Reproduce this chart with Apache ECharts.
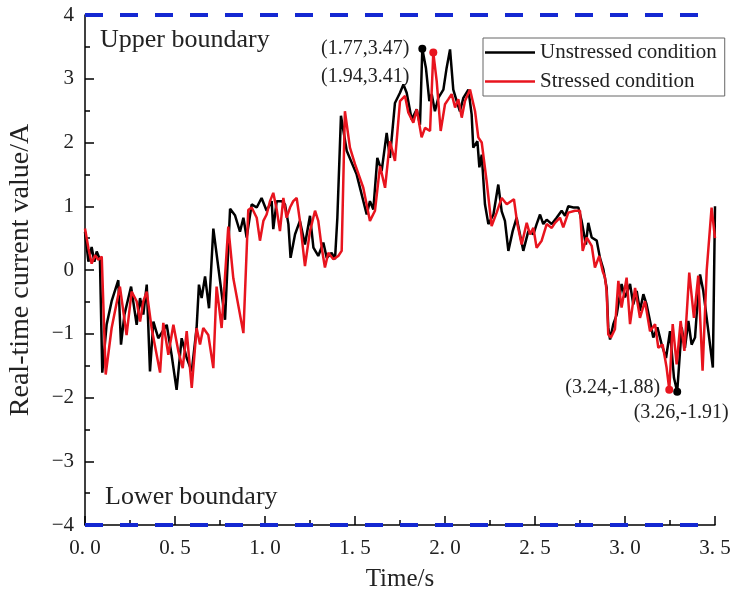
<!DOCTYPE html>
<html>
<head>
<meta charset="utf-8">
<script src="https://cdn.jsdelivr.net/npm/echarts@6/dist/echarts.min.js"></script>
<style>
  html, body { margin: 0; padding: 0; background: #fff; }
  #chart { width: 734px; height: 596px; }
</style>
</head>
<body>
<div id="chart"></div>
<script>
// time (s) and current (A)
const unstressedTime = [0, 0.019, 0.037, 0.052, 0.065, 0.083, 0.096, 0.12, 0.148, 0.185, 0.2, 0.219, 0.256, 0.287, 0.306, 0.324, 0.343, 0.361, 0.38, 0.407, 0.454, 0.481, 0.509, 0.537, 0.565, 0.593, 0.62, 0.633, 0.648, 0.667, 0.689, 0.713, 0.778, 0.806, 0.833, 0.861, 0.88, 0.898, 0.926, 0.954, 0.981, 1.009, 1.037, 1.046, 1.065, 1.093, 1.111, 1.13, 1.142, 1.167, 1.194, 1.222, 1.25, 1.269, 1.296, 1.324, 1.343, 1.37, 1.389, 1.402, 1.422, 1.454, 1.509, 1.565, 1.583, 1.602, 1.624, 1.648, 1.676, 1.694, 1.722, 1.75, 1.769, 1.787, 1.815, 1.843, 1.861, 1.874, 1.894, 1.913, 1.926, 1.944, 1.963, 1.991, 2.009, 2.028, 2.046, 2.065, 2.083, 2.102, 2.13, 2.148, 2.157, 2.18, 2.191, 2.204, 2.222, 2.241, 2.269, 2.296, 2.315, 2.333, 2.352, 2.376, 2.398, 2.435, 2.463, 2.491, 2.509, 2.528, 2.546, 2.565, 2.593, 2.62, 2.648, 2.667, 2.685, 2.713, 2.741, 2.759, 2.783, 2.796, 2.815, 2.843, 2.861, 2.88, 2.898, 2.907, 2.917, 2.935, 2.954, 2.981, 3.0, 3.028, 3.046, 3.065, 3.083, 3.102, 3.12, 3.139, 3.157, 3.18, 3.204, 3.228, 3.25, 3.272, 3.29, 3.315, 3.333, 3.352, 3.37, 3.389, 3.398, 3.417, 3.435, 3.463, 3.488, 3.5];
const unstressedValue = [0.6, 0.13, 0.36, 0.13, 0.29, 0.16, -1.61, -0.86, -0.49, -0.16, -1.17, -0.7, -0.26, -0.86, -0.44, -0.7, -0.23, -1.59, -0.81, -1.07, -0.86, -1.33, -1.88, -1.07, -1.38, -1.59, -0.91, -0.23, -0.44, -0.1, -0.6, 0.65, -0.78, 0.96, 0.86, 0.6, 0.82, 0.51, 1.03, 0.98, 1.13, 0.93, 1.08, 0.64, 1.08, 1.08, 1.03, 0.72, 0.19, 0.56, 0.77, 0.4, 0.85, 0.35, 0.22, 0.43, 0.19, 0.27, 0.17, 0.82, 2.42, 1.87, 1.5, 0.87, 1.08, 0.95, 1.76, 1.55, 2.15, 1.76, 2.62, 2.78, 2.91, 2.78, 2.36, 2.52, 2.28, 3.47, 3.17, 2.65, 2.76, 2.49, 2.7, 2.83, 3.17, 3.46, 2.83, 2.65, 2.49, 2.7, 2.83, 2.44, 1.92, 2.02, 1.61, 1.81, 1.03, 0.72, 0.87, 1.34, 0.92, 0.77, 0.3, 0.61, 0.82, 0.3, 0.61, 0.56, 0.72, 0.87, 0.72, 0.79, 0.72, 0.82, 0.93, 0.85, 1.0, 0.98, 0.98, 0.77, 0.4, 0.74, 0.51, 0.46, 0.19, 0.01, -0.28, -0.9, -1.09, -0.85, -0.7, -0.22, -0.43, -0.22, -0.54, -0.33, -0.64, -0.38, -0.54, -0.8, -1.06, -0.9, -1.17, -1.38, -0.96, -1.69, -1.91, -0.9, -1.22, -0.8, -1.17, -1.06, -0.7, -0.07, -0.33, -0.96, -1.53, 1.0];

const stressedTime = [0, 0.019, 0.037, 0.056, 0.074, 0.093, 0.115, 0.148, 0.194, 0.231, 0.259, 0.287, 0.306, 0.324, 0.343, 0.37, 0.417, 0.435, 0.463, 0.491, 0.519, 0.543, 0.565, 0.593, 0.62, 0.639, 0.657, 0.685, 0.713, 0.731, 0.759, 0.796, 0.824, 0.88, 0.907, 0.926, 0.954, 0.972, 0.991, 1.009, 1.028, 1.046, 1.065, 1.083, 1.102, 1.12, 1.139, 1.157, 1.176, 1.194, 1.222, 1.25, 1.278, 1.296, 1.315, 1.333, 1.352, 1.38, 1.407, 1.426, 1.444, 1.472, 1.5, 1.546, 1.583, 1.611, 1.639, 1.667, 1.694, 1.722, 1.75, 1.778, 1.796, 1.824, 1.843, 1.87, 1.889, 1.917, 1.935, 1.954, 1.976, 2.0, 2.019, 2.037, 2.056, 2.074, 2.093, 2.111, 2.139, 2.167, 2.185, 2.204, 2.231, 2.259, 2.287, 2.315, 2.343, 2.383, 2.402, 2.426, 2.454, 2.472, 2.491, 2.509, 2.537, 2.565, 2.593, 2.611, 2.639, 2.657, 2.685, 2.722, 2.75, 2.765, 2.787, 2.815, 2.833, 2.857, 2.876, 2.889, 2.898, 2.907, 2.922, 2.944, 2.963, 2.981, 3.009, 3.028, 3.056, 3.083, 3.111, 3.139, 3.167, 3.185, 3.209, 3.231, 3.246, 3.265, 3.287, 3.309, 3.33, 3.357, 3.383, 3.407, 3.431, 3.454, 3.481, 3.5];
const stressedValue = [0.65, 0.34, 0.1, 0.23, 0.16, 0.21, -1.64, -0.91, -0.26, -1.02, -0.34, -0.49, -0.81, -0.49, -0.34, -0.91, -1.61, -0.83, -1.33, -0.86, -1.28, -1.54, -0.96, -1.85, -0.91, -1.17, -0.91, -1.02, -1.54, -0.26, -0.91, 0.68, -0.13, -0.99, 0.94, 0.98, 0.82, 0.46, 0.77, 0.87, 1.08, 1.21, 0.95, 0.61, 1.13, 0.82, 0.98, 1.08, 1.13, 0.77, 0.06, 0.61, 0.93, 0.77, 0.35, 0.04, 0.27, 0.17, 0.22, 0.3, 2.49, 1.92, 1.66, 1.29, 0.77, 0.93, 1.63, 1.29, 2.02, 1.71, 2.65, 2.73, 2.47, 2.31, 2.52, 2.08, 2.23, 2.18, 3.41, 2.96, 2.18, 2.6, 2.68, 2.76, 2.55, 2.68, 2.39, 2.65, 2.83, 2.49, 2.08, 2.0, 1.4, 0.69, 0.9, 1.13, 1.03, 1.11, 0.72, 0.4, 0.74, 0.56, 0.66, 0.35, 0.46, 0.72, 0.66, 0.74, 0.82, 0.67, 0.9, 0.93, 0.93, 0.3, 0.51, 0.38, 0.04, 0.22, -0.02, -0.12, -0.33, -1.01, -1.06, -0.93, -0.17, -0.59, -0.12, -0.85, -0.28, -0.75, -0.49, -0.96, -0.85, -1.22, -1.17, -1.53, -1.88, -0.85, -1.48, -0.8, -1.27, -0.04, -0.75, -0.09, -1.58, 0.0, 0.98, 0.5];

const seriesNames = ['Unstressed condition', 'Stressed condition'];
const boundaryTime = [0, 3.42];
const upperBoundary = [4, 4];
const lowerBoundary = [-4, -4];

// annotated extremes: [time, value, text]
const unstressedPeak = [1.874, 3.47, '(1.77,3.47)'];
const stressedPeak = [1.935, 3.41, '(1.94,3.41)'];
const stressedLow = [3.246, -1.88, '(3.24,-1.88)'];
const unstressedLow = [3.29, -1.91, '(3.26,-1.91)'];

const serif = '"Liberation Serif", "Times New Roman", serif';

function zip(a, b) {
    return a.map((t, i) => [t, b[i]]);
}

let myChart = echarts.init(document.getElementById('chart'));

function markLabel(p, color, position, offset) {
    return {
        coord: [p[0], p[1]],
        symbol: 'circle',
        symbolSize: 8,
        itemStyle: { color: color },
        label: {
            show: true, position: position, offset: offset, formatter: p[2],
            color: '#222', fontFamily: serif, fontSize: 20
        }
    };
}

let option = {
    animation: false,
    backgroundColor: '#fff',
    grid: { left: 85, right: 19, top: 15, bottom: 71, containLabel: false, outerBoundsMode: 'none' },
    legend: {
        data: seriesNames,
        orient: 'vertical',
        left: 483, top: 38,
        icon: 'rect',
        itemWidth: 50, itemHeight: 2.5, itemGap: 8,
        padding: [4, 8, 4, 2],
        borderColor: '#666', borderWidth: 1,
        textStyle: { fontFamily: serif, fontSize: 21, color: '#222' }
    },
    xAxis: {
        type: 'value', min: 0, max: 3.5, interval: 0.5,
        name: 'Time/s', nameLocation: 'middle', nameGap: 42,
        nameTextStyle: { fontFamily: serif, fontSize: 25, color: '#222' },
        axisLine: { onZero: false, lineStyle: { color: '#000', width: 1.5 } },
        axisTick: { inside: true, length: 9, lineStyle: { color: '#000', width: 1.5 } },
        minorTick: { show: true, splitNumber: 2, length: 5, lineStyle: { color: '#000', width: 1.5 } },
        splitLine: { show: false },
        axisLabel: {
            fontFamily: serif, fontSize: 21, color: '#222', margin: 13,
            formatter: v => v.toFixed(1).replace('.', '. ')
        }
    },
    yAxis: {
        type: 'value', min: -4, max: 4, interval: 1,
        name: 'Real-time current value/A', nameLocation: 'middle', nameGap: 50,
        nameTextStyle: { fontFamily: serif, fontSize: 28, color: '#222' },
        axisLine: { show: true, onZero: false, lineStyle: { color: '#000', width: 1.5 } },
        axisTick: { inside: true, length: 9, lineStyle: { color: '#000', width: 1.5 } },
        minorTick: { show: true, splitNumber: 2, length: 5, lineStyle: { color: '#000', width: 1.5 } },
        splitLine: { show: false },
        axisLabel: {
            fontFamily: serif, fontSize: 21, color: '#222', margin: 11,
            formatter: v => (v < 0 ? '\u2212' + Math.abs(v) : String(v))
        }
    },
    series: [
        {
            name: 'upper', type: 'line', data: zip(boundaryTime, upperBoundary),
            symbol: 'none', silent: true, z: 1,
            lineStyle: { color: '#1428d2', width: 4, type: [18, 17] }
        },
        {
            name: 'lower', type: 'line', data: zip(boundaryTime, lowerBoundary),
            symbol: 'none', silent: true, z: 1,
            lineStyle: { color: '#1428d2', width: 4, type: [18, 17] }
        },
        {
            name: seriesNames[0], type: 'line', data: zip(unstressedTime, unstressedValue),
            symbol: 'none', z: 3, color: '#000',
            lineStyle: { color: '#000', width: 2.5 },
            markPoint: {
                data: [
                    markLabel(unstressedPeak, '#000', 'left', [-4, 0]),
                    markLabel(unstressedLow, '#000', 'bottom', [4, 2])
                ]
            }
        },
        {
            name: seriesNames[1], type: 'line', data: zip(stressedTime, stressedValue),
            symbol: 'none', z: 4, color: '#e8141e',
            lineStyle: { color: '#e8141e', width: 2.5 },
            markPoint: {
                data: [
                    markLabel(stressedPeak, '#e8141e', 'left', [-15, 24]),
                    markLabel(stressedLow, '#e8141e', 'left', [0, -2])
                ]
            }
        }
    ],
    graphic: [
        {
            type: 'text', left: 100, top: 27,
            style: { text: 'Upper boundary', font: '26px ' + serif, fill: '#222' }
        },
        {
            type: 'text', left: 105, top: 484,
            style: { text: 'Lower boundary', font: '26px ' + serif, fill: '#222' }
        }
    ]
};

myChart.setOption(option);

window.onresize = function () {
    myChart.resize();
};
</script>
</body>
</html>
